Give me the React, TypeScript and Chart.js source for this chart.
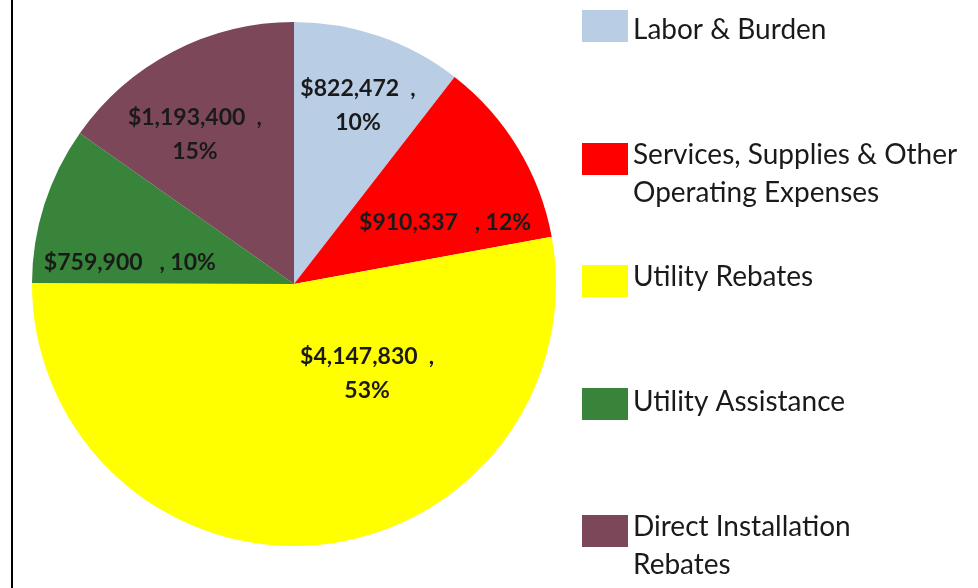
import React, { useEffect, useRef } from "react";
import { Chart, registerables } from "chart.js";

Chart.register(...registerables);

const categories: string[][] = [
  ["Labor & Burden"],
  ["Services, Supplies & Other", "Operating Expenses"],
  ["Utility Rebates"],
  ["Utility Assistance"],
  ["Direct Installation", "Rebates"],
];
const values: number[] = [822472, 910337, 4147830, 759900, 1193400];
const colors: string[] = ["#B9CDE5", "#FF0000", "#FFFF00", "#38843A", "#7B4759"];

// label layout: [angle offset from slice mid (deg), fraction of radius, two lines?]
const labelLayout: [number, number, boolean][] = [
  [0.8, 0.725, true],
  [9.3, 0.622, false],
  [-34.3, 0.44, true],
  [-10.1, 0.632, false],
  [-6.2, 0.683, true],
];
// legend layout: swatch top y, and cap-centre of first text line
const legendTops = [10, 143, 265, 388, 515];
const legendTextCentres = [29, 154, 276, 401, 526];

const TEXT_FONT = "Lato, 'Open Sans', sans-serif";

const overlayPlugin = {
  id: "overlay",
  afterDatasetsDraw(chart: any) {
    const ctx = chart.ctx as CanvasRenderingContext2D;
    const meta = chart.getDatasetMeta(0);
    const data = chart.data.datasets[0].data as number[];
    const total = data.reduce((a, b) => a + b, 0);
    ctx.save();
    // data labels
    ctx.fillStyle = "#1a1a1a";
    ctx.font = `bold 23px ${TEXT_FONT}`;
    ctx.textAlign = "center";
    ctx.textBaseline = "middle";
    meta.data.forEach((arc: any, i: number) => {
      const p = arc.getProps(["x", "y", "startAngle", "endAngle", "outerRadius"], true);
      const mid = (p.startAngle + p.endAngle) / 2 + (labelLayout[i][0] * Math.PI) / 180;
      const r = p.outerRadius * labelLayout[i][1];
      const cx = p.x + Math.cos(mid) * r;
      const cy = p.y + Math.sin(mid) * r;
      const money = "$" + data[i].toLocaleString("en-US");
      const pct = Math.round((data[i] / total) * 100) + "%";
      if (labelLayout[i][2]) {
        ctx.fillText(money + "  ,", cx, cy - 17);
        ctx.fillText(pct, cx, cy + 17);
      } else {
        ctx.fillText(money + "   , " + pct, cx, cy);
      }
    });
    // legend
    ctx.textAlign = "left";
    ctx.textBaseline = "alphabetic";
    ctx.font = `28px ${TEXT_FONT}`;
    const labels = chart.data.labels as string[][];
    labels.forEach((lines, i) => {
      const top = legendTops[i];
      ctx.fillStyle = colors[i];
      ctx.fillRect(582, top, 46, 32);
      ctx.fillStyle = "#1a1a1a";
      lines.forEach((ln, j) => {
        ctx.fillText(ln, 633, legendTextCentres[i] + 10 + j * 37.5);
      });
    });
    // left border
    ctx.fillStyle = "#000";
    ctx.fillRect(11, 0, 2, chart.height);
    ctx.restore();
  },
};

export default function App() {
  const ref = useRef<HTMLCanvasElement>(null);
  useEffect(() => {
    if (!ref.current) return;
    const chart = new Chart(ref.current, {
      type: "pie",
      data: {
        labels: categories as any,
        datasets: [
          {
            data: values,
            backgroundColor: colors,
            borderWidth: 0,
          },
        ],
      },
      options: {
        animation: false,
        responsive: false,
        layout: { padding: { left: 32, top: 22, right: 422, bottom: 42 } },
        plugins: { legend: { display: false }, tooltip: { enabled: false } },
      },
      plugins: [overlayPlugin],
    });
    return () => chart.destroy();
  }, []);
  return (
    <div style={{ position: "fixed", left: 0, top: 0, width: 978, height: 588, background: "#fff" }}>
      <canvas ref={ref} width={978} height={588} style={{ width: 978, height: 588 }} />
    </div>
  );
}
